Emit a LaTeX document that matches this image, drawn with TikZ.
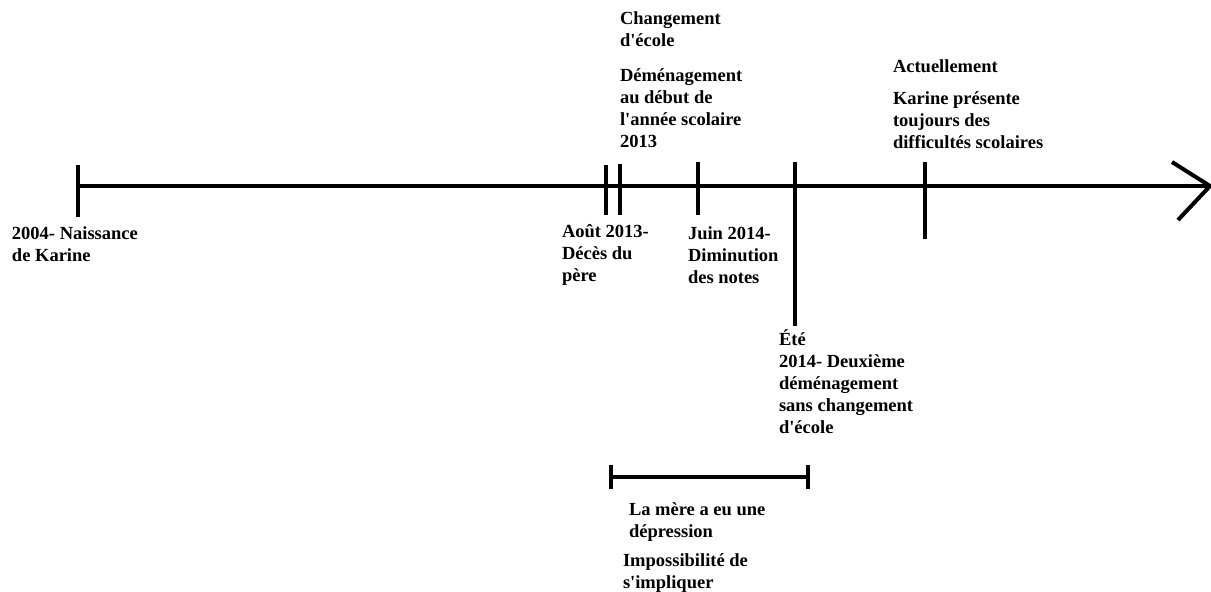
\documentclass[tikz,border=0pt]{standalone}
\usepackage{fontspec}
\setmainfont{Liberation Serif}
\newcommand{\ap}{\textquotesingle}
\begin{document}
\begin{tikzpicture}[x = 1pt, y = -1pt, line width = 4pt,
	lbl/.style = {anchor = base west, align = left, inner sep = 0pt,
		font = \bfseries\fontsize{18.5}{22}\selectfont}]
	\useasboundingbox (0,0) rectangle (1211,592);
	% axe du temps
	\coordinate (debut) at (78,186);
	\coordinate (fin) at (1210,186);
	\draw (debut) -- (fin);
	\draw (1172,162) -- (fin) -- (1178,220);
	% traits
	\draw (78,165) -- (78,217);
	\draw (606,165) -- (606,215);
	\draw (620,164) -- (620,215);
	\draw (698,162) -- (698,215);
	\draw (795,162) -- (795,326);
	\draw (925,162) -- (925,239);
	% periode de depression
	\coordinate (dep1) at (611,477);
	\coordinate (dep2) at (808,477);
	\draw (dep1) -- (dep2);
	\draw (611,465) -- (611,489);
	\draw (808,465) -- (808,489);
	% textes (ancre : ligne de base de la derniere ligne)
	\node [lbl] (naissance) at (10,261) {2004- Naissance\\de Karine};
	\node [lbl] (deces) at (560,281) {Août 2013-\\Décès du\\père};
	\node [lbl] (notes) at (686,283) {Juin 2014-\\Diminution\\des notes};
	\node [lbl] (ete) at (777,433) {Été\\2014- Deuxième\\déménagement\\sans changement\\d\ap école};
	\node [lbl] (ecole) at (618,46) {Changement\\d\ap école};
	\node [lbl] (demenag) at (618,147) {Déménagement\\au début de\\l\ap année scolaire\\2013};
	\node [lbl] (actu) at (891,72) {Actuellement};
	\node [lbl] (difficultes) at (891,148) {Karine présente\\toujours des\\difficultés scolaires};
	\node [lbl] (mere) at (627,537) {La mère a eu une\\dépression};
	\node [lbl] (impliquer) at (621,588) {Impossibilité de\\s\ap impliquer};
\end{tikzpicture}
\end{document}
